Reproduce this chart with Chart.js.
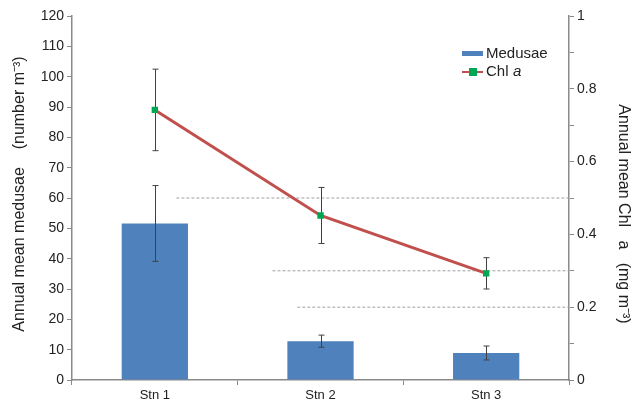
<!DOCTYPE html>
<html><head><meta charset="utf-8">
<script src="https://cdn.jsdelivr.net/npm/chart.js@4.4.1/dist/chart.umd.min.js"></script>
<style>html,body{margin:0;padding:0;background:#fff}#wrap{width:632px;height:408px;position:relative}</style>
</head><body><div id="wrap"><canvas id="c" width="632" height="408"></canvas></div>
<script>
const categories = ['Stn 1', 'Stn 2', 'Stn 3'];
const medusae = [51.6, 12.8, 8.9];
const medusaeErr = [12.5, 2.0, 2.3];
const chl = [0.742, 0.452, 0.293];
const chlErr = [0.112, 0.077, 0.043];
const refLevels = [0.5, 0.3, 0.2];
const refStarts = [0.13, 0.71, 0.86];
const refEnd = 2.5;

const FONT = '"Liberation Sans", Arial, sans-serif';
const AX = '#8a8a8a';

function drawErr(chart, xScale, yScale, vals, errs) {
  const ctx = chart.ctx;
  ctx.save();
  ctx.strokeStyle = '#404040';
  ctx.lineWidth = 1;
  vals.forEach((v, i) => {
    const x = Math.round(xScale.getPixelForValue(i)) + 0.5;
    const yt = yScale.getPixelForValue(v + errs[i]);
    const yb = yScale.getPixelForValue(v - errs[i]);
    ctx.beginPath();
    ctx.moveTo(x, yt); ctx.lineTo(x, yb);
    ctx.moveTo(x - 3, yt); ctx.lineTo(x + 3, yt);
    ctx.moveTo(x - 3, yb); ctx.lineTo(x + 3, yb);
    ctx.stroke();
  });
  ctx.restore();
}

const extras = {
  id: 'extras',
  afterDatasetDraw(chart, args) {
    if (args.index === 0) drawErr(chart, chart.scales.x, chart.scales.y, medusae, medusaeErr);
  },
  beforeDatasetDraw(chart, args) {
    if (args.index === 1) drawErr(chart, chart.scales.x, chart.scales.y1, chl, chlErr);
  },
  afterDraw(chart) {
    const ctx = chart.ctx;
    ctx.save();
    ctx.fillStyle = '#222';
    ctx.textBaseline = 'middle';
    // left title
    ctx.save();
    ctx.translate(20, 194);
    ctx.rotate(-Math.PI / 2);
    ctx.font = '16px ' + FONT;
    ctx.textAlign = 'center';
    ctx.fillText('Annual mean medusae    (number m\u207B\u00B3)', 0, 0);
    ctx.restore();
    // right title
    ctx.save();
    ctx.translate(623, 214);
    ctx.rotate(Math.PI / 2);
    ctx.font = '16px ' + FONT;
    ctx.textAlign = 'center';
    ctx.fillText('Annual mean Chl   a   (mg m\u207B\u00B3)', 0, 0);
    ctx.restore();
    // legend
    ctx.fillStyle = '#4F81BD';
    ctx.fillRect(462, 51, 21, 5);
    ctx.fillStyle = '#222';
    ctx.font = '15px ' + FONT;
    ctx.textAlign = 'left';
    ctx.fillText('Medusae', 486, 54);
    ctx.strokeStyle = '#C0504D';
    ctx.lineWidth = 2;
    ctx.beginPath(); ctx.moveTo(462, 72); ctx.lineTo(483, 72); ctx.stroke();
    ctx.fillStyle = '#00A651';
    ctx.fillRect(469, 68, 8, 8);
    ctx.fillStyle = '#222';
    ctx.fillText('Chl', 486, 72);
    ctx.font = 'italic 15px ' + FONT;
    ctx.fillText('a', 513, 72);
    ctx.restore();
  }
};

const refDatasets = refLevels.map((lvl, i) => ({
  type: 'line',
  data: [{ x: refStarts[i], y: lvl }, { x: refEnd, y: lvl }],
  xAxisID: 'x2', yAxisID: 'y1',
  borderColor: '#a0a0a0', borderWidth: 1, borderDash: [3, 2],
  pointRadius: 0, order: 1
}));

new Chart(document.getElementById('c'), {
  data: {
    labels: categories,
    datasets: [
      { type: 'bar', label: 'Medusae', data: medusae, backgroundColor: '#4F81BD', grouped: false,
        xAxisID: 'x', yAxisID: 'y', barPercentage: 0.8, categoryPercentage: 0.5, order: 2 },
      { type: 'line', label: 'Chl a', data: chl, xAxisID: 'x', yAxisID: 'y1',
        borderColor: '#C0504D', borderWidth: 3, pointStyle: 'rect', pointRadius: 4.5,
        pointBackgroundColor: '#00A651', pointBorderColor: '#00A651', pointBorderWidth: 0, order: 0 },
      ...refDatasets
    ]
  },
  options: {
    responsive: false, animation: false, devicePixelRatio: 1,
    layout: { padding: { top: 16, left: 0, right: 0, bottom: 0 } },
    plugins: { legend: { display: false }, tooltip: { enabled: false } },
    scales: {
      x: {
        type: 'category', position: 'bottom', offset: true,
        grid: { display: true, drawOnChartArea: false, offset: true, tickLength: 5, color: AX },
        border: { color: AX, width: 1.5 },
        ticks: { color: '#222', font: { family: FONT, size: 13 }, padding: 3 },
        afterFit(s) { s.height = 28; }
      },
      x2: { type: 'linear', display: false, min: -0.5, max: 2.5 },
      y: {
        position: 'left', min: 0, max: 120,
        ticks: { stepSize: 10, color: '#222', font: { family: FONT, size: 14 }, padding: 3 },
        grid: { drawOnChartArea: false, tickLength: 5, color: AX },
        border: { color: AX, width: 1.5 },
        afterFit(s) { s.width = 72; }
      },
      y1: {
        position: 'right', min: 0, max: 1,
        ticks: { stepSize: 0.1, color: '#222', font: { family: FONT, size: 14 }, padding: 3,
          callback(v) { const r = Math.round(v * 10); return r % 2 === 0 ? String(r / 10) : ''; } },
        grid: { drawOnChartArea: false, tickLength: 5, color: AX },
        border: { color: AX, width: 1.5 },
        afterFit(s) { s.width = 63; }
      }
    }
  },
  plugins: [extras]
});
</script></body></html>
